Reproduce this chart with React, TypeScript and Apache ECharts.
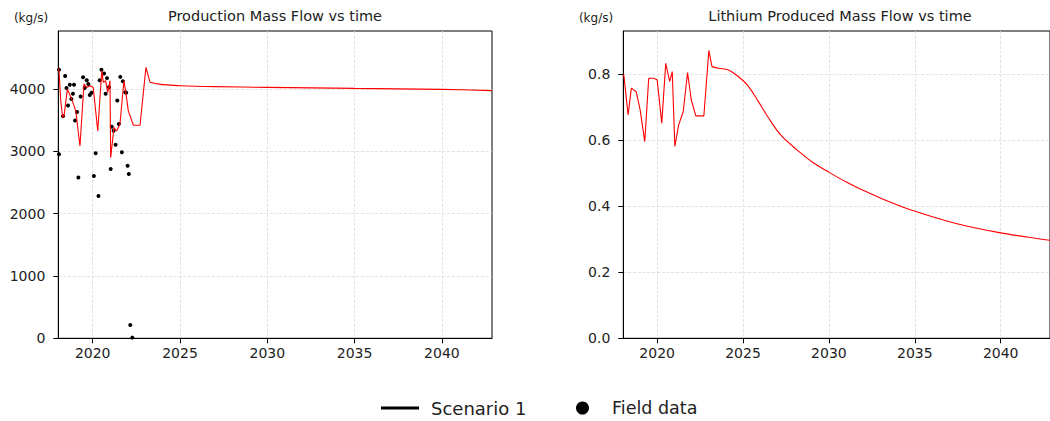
import React, { useEffect, useRef } from "react";
import * as echarts from "echarts";

// ---- Data ----
const prodYears = [
  2018.03, 2018.07, 2018.17, 2018.28, 2018.36, 2018.55, 2018.8, 2019.03, 2019.27, 2019.5,
  2019.66, 2019.85, 2020.03, 2020.29, 2020.52, 2020.61, 2020.74, 2020.86, 2020.99, 2021.03,
  2021.22, 2021.37, 2021.56, 2021.79, 2021.91, 2022.04, 2022.33, 2022.71, 2023.05, 2023.28,
  2023.8, 2024.5, 2025.0, 2027.0, 2030.0, 2035.0, 2040.0, 2042.87,
];
const prodValues = [
  4330, 4293, 3810, 3547, 3568, 3998, 3837, 3649, 3085, 4079,
  4026, 4052, 4026, 3327, 4293, 4106, 4132, 3945, 4132, 2899,
  3382, 3327, 3435, 4132, 3918, 3649, 3419, 3419, 4348, 4110,
  4078, 4062, 4052, 4038, 4026, 4010, 3994, 3975,
];
// index where the smooth forecast part starts (shared point)
const prodForecastStart = 29;

const fieldYears = [
  2018.07, 2018.07, 2018.3, 2018.42, 2018.5, 2018.59, 2018.69, 2018.78, 2018.87, 2018.93,
  2018.99, 2019.1, 2019.18, 2019.31, 2019.45, 2019.54, 2019.66, 2019.75, 2019.83, 2019.93,
  2020.07, 2020.17, 2020.33, 2020.4, 2020.5, 2020.65, 2020.74, 2020.82, 2020.93, 2021.03,
  2021.09, 2021.2, 2021.31, 2021.41, 2021.5, 2021.58, 2021.67, 2021.73, 2021.87, 2021.92,
  2022.0, 2022.07, 2022.15, 2022.27,
];
const fieldValues = [
  4310, 2955, 3565, 4210, 4015, 3735, 4070, 3840, 3925, 4070,
  3495, 3630, 2580, 3880, 4190, 4015, 4140, 4080, 3905, 3940,
  2605, 2970, 2285, 4140, 4310, 4250, 3925, 4175, 4030, 2715,
  3395, 3330, 3105, 3815, 3440, 4195, 2985, 4125, 3950, 3940,
  2770, 2635, 215, 11,
];

const lithYears = [
  2018.03, 2018.06, 2018.31, 2018.5, 2018.78, 2019.01, 2019.28, 2019.51, 2019.77, 2020.0,
  2020.27, 2020.5, 2020.73, 2020.88, 2021.03, 2021.25, 2021.52, 2021.77, 2021.99, 2022.25,
  2022.72, 2023.01, 2023.19, 2023.58, 2024.15, 2024.72, 2025.29, 2025.86, 2026.43, 2027.19,
  2028.14, 2029.09, 2030.04, 2030.99, 2031.95, 2033.09, 2033.85, 2034.89, 2037.46, 2039.84,
  2042.41, 2042.87,
];
const lithValues = [
  0.8, 0.798, 0.677, 0.758, 0.747, 0.692, 0.596, 0.788, 0.788, 0.783,
  0.652, 0.833, 0.778, 0.808, 0.581, 0.646, 0.687, 0.805, 0.722, 0.674,
  0.674, 0.872, 0.823, 0.818, 0.813, 0.793, 0.765, 0.72, 0.672, 0.616,
  0.571, 0.532, 0.502, 0.474, 0.449, 0.423, 0.407, 0.387, 0.347, 0.321,
  0.3, 0.297,
];
const lithForecastStart = 22;

const xTicks = [2020, 2025, 2030, 2035, 2040];
const prodTicks = [0, 1000, 2000, 3000, 4000];
const lithTicks = [0, 0.2, 0.4, 0.6, 0.8];

const FONT = "DejaVu Sans";
const TXT = "#222";

function xAxisCfg(gridIndex: number) {
  return {
    type: "value",
    gridIndex,
    min: 2018.03,
    max: 2042.87,
    axisLine: { show: true, onZero: false, lineStyle: { color: "#000", width: 1 } },
    axisTick: { show: true, length: 5, lineStyle: { color: "#000", width: 1 }, customValues: xTicks },
    axisLabel: {
      customValues: xTicks,
      fontSize: 14,
      color: TXT,
      margin: 8,
      fontFamily: FONT,
      formatter: (v: number) => String(Math.round(v)),
    },
    splitLine: { show: true, lineStyle: { color: "#dcdcdc", type: "dashed", width: 0.8 } },
  };
}

function yAxisCfg(gridIndex: number, max: number, ticks: number[], fmt: (v: number) => string) {
  return {
    type: "value",
    gridIndex,
    min: 0,
    max,
    axisLine: { show: true, lineStyle: { color: "#000", width: 1 } },
    axisTick: { show: true, length: 5, lineStyle: { color: "#000", width: 1 }, customValues: ticks },
    axisLabel: { customValues: ticks, fontSize: 14, color: TXT, margin: 13, fontFamily: FONT, formatter: fmt },
    splitLine: { show: true, lineStyle: { color: "#dcdcdc", type: "dashed", width: 0.8 } },
  };
}

function redLine(xi: number, data: number[][], smooth: boolean) {
  return {
    name: "Scenario 1",
    type: "line",
    xAxisIndex: xi,
    yAxisIndex: xi,
    data,
    showSymbol: false,
    symbol: "none",
    smooth: smooth ? 0.35 : false,
    lineStyle: { color: "#ff0000", width: 1.1 },
    itemStyle: { color: "#ff0000" },
    clip: true,
  };
}

export default function App() {
  const ref = useRef<HTMLDivElement>(null);

  useEffect(() => {
    if (!ref.current) return;
    const chart = echarts.init(ref.current, undefined, { renderer: "svg" });
    const prodLine = prodYears.map((y, i) => [y, prodValues[i]]);
    const field = fieldYears.map((y, i) => [y, fieldValues[i]]);
    const lithLine = lithYears.map((y, i) => [y, lithValues[i]]);

    chart.setOption({
      animation: false,
      backgroundColor: "#fff",
      textStyle: { fontFamily: FONT },
      grid: [
        { left: 58.3, top: 31, width: 433.7, height: 307.3, show: true, borderColor: "#000", borderWidth: 1, containLabel: false },
        { left: 623.3, top: 31, width: 435.3, height: 307.3, show: true, borderColor: "#000", borderWidth: 1, containLabel: false },
      ],
      xAxis: [xAxisCfg(0), xAxisCfg(1)],
      yAxis: [
        yAxisCfg(0, 4931, prodTicks, (v: number) => String(Math.round(v))),
        yAxisCfg(1, 0.931, lithTicks, (v: number) => v.toFixed(1)),
      ],
      legend: [
        {
          data: [{ name: "Scenario 1", icon: "rect", itemStyle: { color: "#000" } }],
          left: 381,
          top: 399,
          padding: 0,
          itemWidth: 38,
          itemHeight: 3,
          selectedMode: false,
          textStyle: { fontSize: 18, color: TXT, fontFamily: FONT, padding: [0, 0, 0, 7] },
        },
        {
          data: [{ name: "Field data", icon: "circle", itemStyle: { color: "#000", opacity: 1 } }],
          left: 576,
          top: 399,
          padding: 0,
          itemWidth: 13,
          itemHeight: 13,
          selectedMode: false,
          textStyle: { fontSize: 17.5, color: TXT, fontFamily: FONT, padding: [0, 0, 0, 18] },
        },
      ],
      graphic: [
        { type: "text", x: 275, y: 16, style: { text: "Production Mass Flow vs time", font: `14.5px '${FONT}'`, fill: TXT, align: "center", verticalAlign: "middle" } },
        { type: "text", x: 840, y: 16, style: { text: "Lithium Produced Mass Flow vs time", font: `14.5px '${FONT}'`, fill: TXT, align: "center", verticalAlign: "middle" } },
        { type: "text", x: 31, y: 18, style: { text: "(kg/s)", font: `12px '${FONT}'`, fill: TXT, align: "center", verticalAlign: "middle" } },
        { type: "text", x: 596, y: 18, style: { text: "(kg/s)", font: `12px '${FONT}'`, fill: TXT, align: "center", verticalAlign: "middle" } },
      ],
      series: [
        redLine(0, prodLine.slice(0, prodForecastStart + 1), false),
        redLine(0, prodLine.slice(prodForecastStart), true),
        {
          name: "Field data",
          type: "scatter",
          xAxisIndex: 0,
          yAxisIndex: 0,
          data: field,
          symbolSize: 4,
          itemStyle: { color: "#000", opacity: 1 },
        },
        redLine(1, lithLine.slice(0, lithForecastStart + 1), false),
        redLine(1, lithLine.slice(lithForecastStart), true),
      ],
    });
    return () => chart.dispose();
  }, []);

  return (
    <div
      ref={ref}
      style={{ position: "fixed", left: 0, top: 0, width: 1050, height: 421, background: "#fff" }}
    />
  );
}
